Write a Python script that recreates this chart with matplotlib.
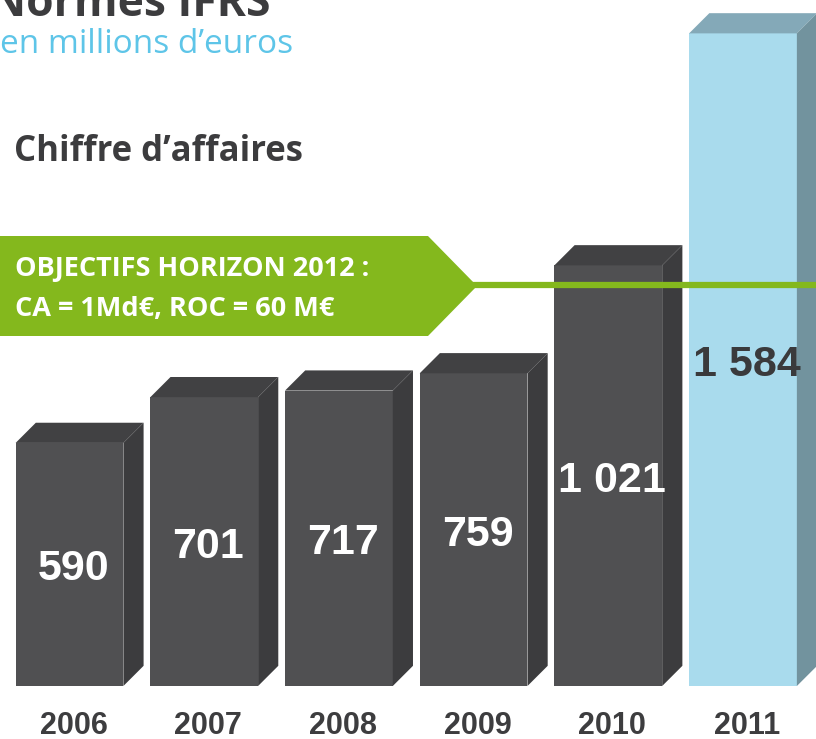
import matplotlib.pyplot as plt
from matplotlib.patches import Polygon
import numpy as np

# Chart data
years = ['2006', '2007', '2008', '2009', '2010', '2011']
revenue = [590, 701, 717, 759, 1021, 1584]
value_labels = ['590', '701', '717', '759', '1 021', '1 584']
objective_lines = ['OBJECTIFS HORIZON 2012 :', 'CA = 1Md€, ROC = 60 M€']

W, H = 816, 739
fig = plt.figure(figsize=(W / 100, H / 100), dpi=100)
ax = fig.add_axes([0, 0, 1, 1])
ax.set_xlim(-0.516, 5.542)
ax.set_ylim(-128.6, 1665)
ax.axis('off')


def px(x, y):
    # pixel position (from top-left) -> figure fraction
    return x / W, 1 - y / H


# 3D looking bars: front face is a real bar, top and side are derived from it
x = np.arange(len(years))
width = 0.80
dx = 0.150   # depth in x units
dy = 49.0    # depth in value units

front = ['#505052'] * 5 + ['#a9dbed']
top = ['#414143'] * 5 + ['#84a9b8']
side = ['#3c3c3e'] * 5 + ['#72939e']

bars = ax.bar(x, revenue, width=width, color=front, edgecolor='none', zorder=2)
for b, t, s in zip(bars, top, side):
    x0 = b.get_x()
    x1 = x0 + b.get_width()
    h = b.get_height()
    ax.add_patch(Polygon([(x0, h), (x0 + dx, h + dy), (x1 + dx, h + dy), (x1, h)],
                         closed=True, facecolor=t, edgecolor='none', zorder=2))
    ax.add_patch(Polygon([(x1, 0), (x1 + dx, dy), (x1 + dx, h + dy), (x1, h)],
                         closed=True, facecolor=s, edgecolor='none', zorder=2))

# Value labels in the middle of each bar
for i, (v, lab) in enumerate(zip(revenue, value_labels)):
    col = '#3a3a3c' if i == len(revenue) - 1 else 'white'
    ax.text(x[i] + 0.03, v / 2 - 12, lab, ha='center', va='center', fontsize=31,
            fontweight='bold', family='Liberation Sans', color=col, zorder=4)

# Year labels under the bars
for i, yr in enumerate(years):
    ax.text(x[i] + 0.03, -96, yr, ha='center', va='center', fontsize=22,
            fontweight='bold', family='Liberation Sans', color='#3d3d3f')

# Titles
fig.text(*px(270, 16), 'Normes IFRS', ha='right', va='baseline', fontsize=32,
         fontweight='bold', family='Open Sans', color='#3c3c3e')
fig.text(*px(0, 53), 'en millions d\u2019euros', ha='left', va='baseline', fontsize=24,
         family='Open Sans', color='#5ec5e8')
fig.text(*px(14, 161), 'Chiffre d\u2019affaires', ha='left', va='baseline', fontsize=25,
         fontweight='bold', family='Open Sans', color='#3c3c3e')

# Green objective banner and its line
green = '#84b81d'
banner = [px(0, 236), px(428, 236), px(477, 286), px(428, 336), px(0, 336)]
fig.patches.append(Polygon(banner, closed=True, facecolor=green, edgecolor='none',
                           transform=fig.transFigure, zorder=5))
fig.lines.append(plt.Line2D([470 / W, 1], [1 - 285 / H] * 2, color=green, lw=4.5,
                            transform=fig.transFigure, zorder=5))
fig.text(*px(15, 276), objective_lines[0], ha='left', va='baseline', fontsize=19.5,
         fontweight='bold', family='Open Sans', color='white', zorder=6)
fig.text(*px(15, 316), objective_lines[1], ha='left', va='baseline', fontsize=19.5,
         fontweight='bold', family='Open Sans', color='white', zorder=6)

fig.savefig('out.png', dpi=100, facecolor='white')
